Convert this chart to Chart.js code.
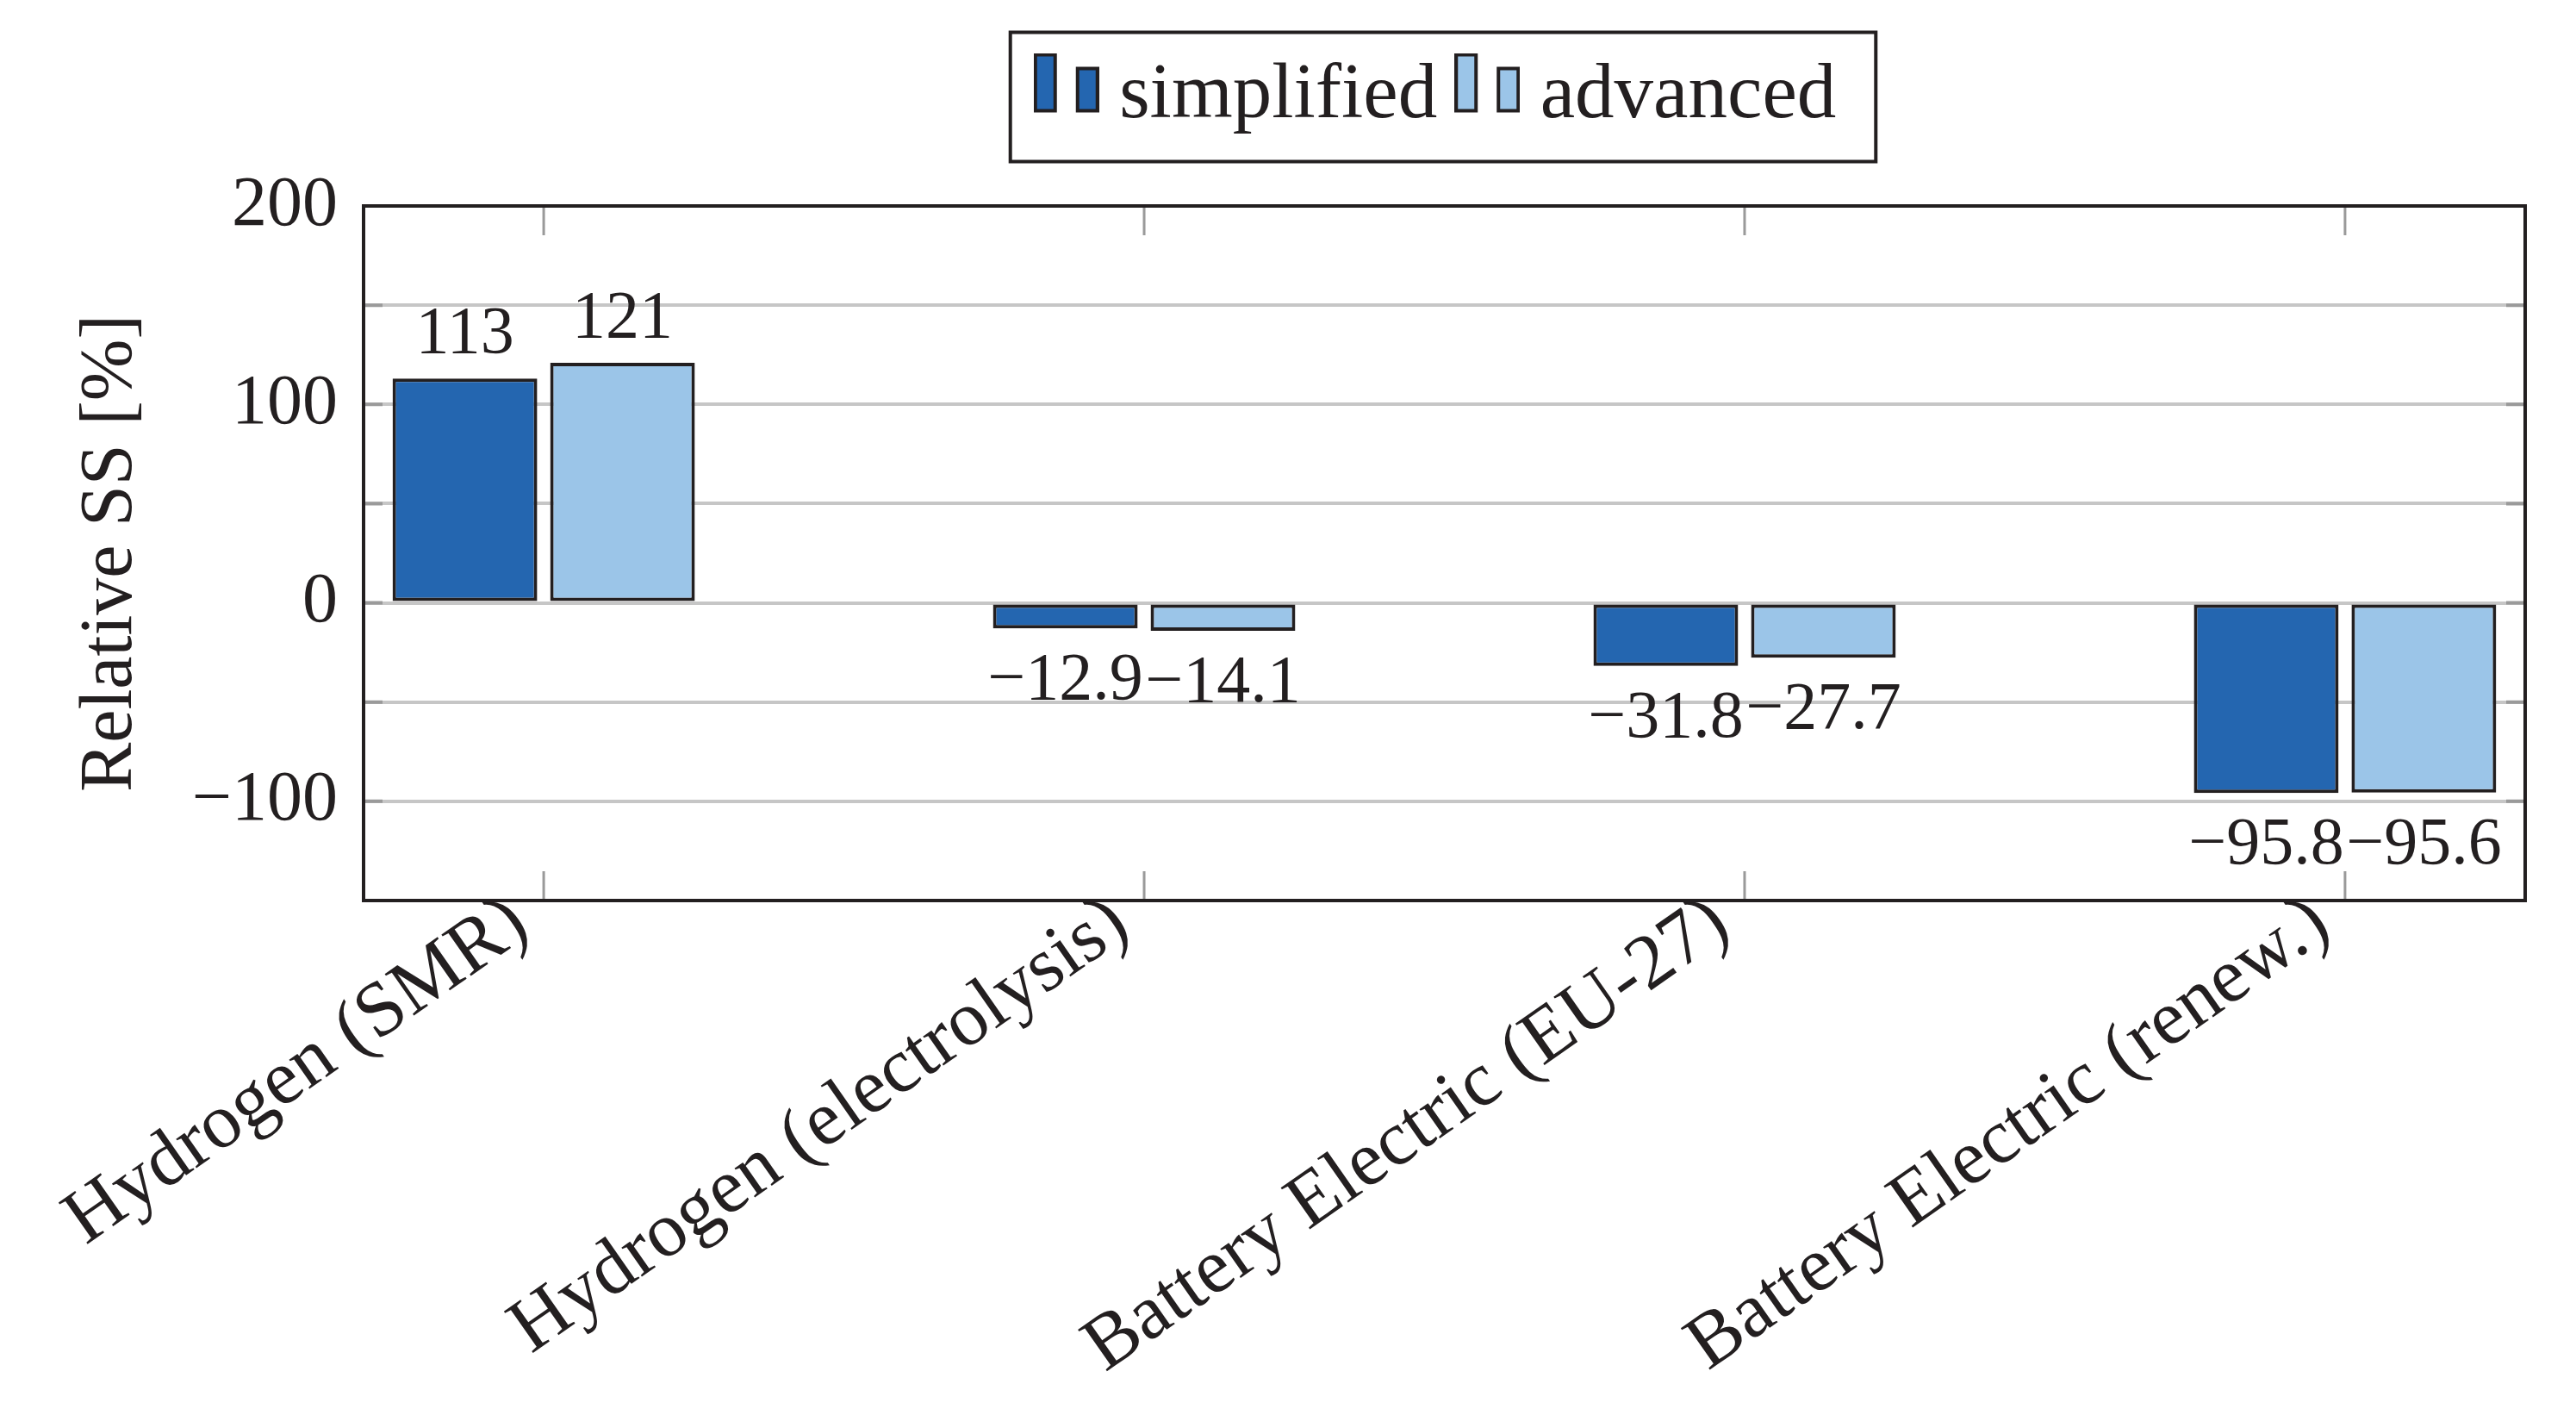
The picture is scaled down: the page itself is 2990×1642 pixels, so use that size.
<!DOCTYPE html>
<html>
<head>
<meta charset="utf-8">
<script src="https://cdn.jsdelivr.net/npm/chart.js@4.4.1/dist/chart.umd.min.js"></script>
<style>
  html, body { margin: 0; padding: 0; background: #ffffff; }
  #wrap { width: 2990px; height: 1642px; }
</style>
</head>
<body>
<div id="wrap"><canvas id="myChart" width="2990" height="1642"></canvas></div>
<script>
// values
var categories = ['Hydrogen (SMR)', 'Hydrogen (electrolysis)', 'Battery Electric (EU-27)', 'Battery Electric (renew.)'];
var simplified = [113, -12.9, -31.8, -95.8];
var advanced = [121, -14.1, -27.7, -95.6];
var seriesNames = ['simplified', 'advanced'];
var yLabelTicks = [-100, 0, 100, 200];

var ink = '#231f20';
var darkBlue = '#2466b0';
var lightBlue = '#9bc5e8';
var serif = "'Liberation Serif', 'DejaVu Serif', serif";

function fmt(v) {
    var s = String(Math.abs(v));
    return v < 0 ? '\u2212' + s : s;
}

// little two-bar legend glyph, like the pgfplots ybar legend
function makeIcon(color) {
    var c = document.createElement('canvas');
    c.width = 76;
    c.height = 102;
    var g = c.getContext('2d');
    g.fillStyle = color;
    g.strokeStyle = ink;
    g.lineWidth = 4;
    g.fillRect(0, 0, 27, 69);
    g.strokeRect(2, 2, 23, 65);
    g.fillRect(49, 16, 27, 53);
    g.strokeRect(51, 18, 23, 49);
    return c;
}

function points(arr) {
    return arr.map(function (v, i) { return { x: i, y: v }; });
}

var legendMargin = {
    id: 'legendMargin',
    beforeInit: function (chart) {
        var fit = chart.legend.fit;
        chart.legend.fit = function () {
            fit.bind(chart.legend)();
            this.height += 71;
        };
    }
};

var frameAndTicks = {
    id: 'frameAndTicks',
    beforeDatasetsDraw: function (chart) {
        var ctx = chart.ctx, a = chart.chartArea;
        var xs = chart.scales.x, ys = chart.scales.y;
        ctx.save();
        ctx.strokeStyle = '#9a9a9a';
        ctx.lineWidth = 3;
        xs.ticks.forEach(function (t) {
            var px = xs.getPixelForValue(t.value);
            ctx.beginPath();
            ctx.moveTo(px, a.bottom); ctx.lineTo(px, a.bottom - 34);
            ctx.moveTo(px, a.top); ctx.lineTo(px, a.top + 34);
            ctx.stroke();
        });
        ctx.lineWidth = 4;
        ys.ticks.forEach(function (t) {
            var py = ys.getPixelForValue(t.value);
            ctx.beginPath();
            ctx.moveTo(a.left, py); ctx.lineTo(a.left + 22, py);
            ctx.moveTo(a.right, py); ctx.lineTo(a.right - 22, py);
            ctx.stroke();
        });
        ctx.restore();
    },
    afterDatasetsDraw: function (chart) {
        var ctx = chart.ctx, a = chart.chartArea;
        ctx.save();
        // value labels
        ctx.font = '78px ' + serif;
        ctx.fillStyle = ink;
        ctx.textAlign = 'center';
        ctx.textBaseline = 'alphabetic';
        chart.data.datasets.forEach(function (ds, di) {
            var meta = chart.getDatasetMeta(di);
            meta.data.forEach(function (bar, i) {
                var v = ds.data[i].y;
                var y = v >= 0 ? bar.y - 30 : bar.y + 82;
                ctx.fillText(fmt(v), bar.x, y);
            });
        });
        // axis frame
        ctx.strokeStyle = ink;
        ctx.lineWidth = 4;
        ctx.strokeRect(a.left, a.top, a.right - a.left, a.bottom - a.top);
        ctx.restore();
    },
    afterDraw: function (chart) {
        var hb = chart.legend.legendHitBoxes;
        if (!hb || !hb.length) return;
        var ctx = chart.ctx;
        var last = hb[hb.length - 1];
        var cy = hb[0].top + hb[0].height / 2;
        var left = hb[0].left - 49;
        var right = last.left + last.width + 46;
        ctx.save();
        ctx.strokeStyle = ink;
        ctx.lineWidth = 4;
        ctx.strokeRect(left, cy - 75, right - left, 150);
        ctx.restore();
    }
};

var myChart = document.getElementById('myChart').getContext('2d');
var chart = new Chart(myChart, {
    type: 'bar',
    data: {
        datasets: [
            {
                label: seriesNames[0],
                data: points(simplified),
                backgroundColor: darkBlue,
                borderColor: ink,
                borderWidth: 4,
                borderSkipped: false,
                pointStyle: makeIcon(darkBlue)
            },
            {
                label: seriesNames[1],
                data: points(advanced),
                backgroundColor: lightBlue,
                borderColor: ink,
                borderWidth: 4,
                borderSkipped: false,
                pointStyle: makeIcon(lightBlue)
            }
        ]
    },
    options: {
        responsive: false,
        animation: false,
        devicePixelRatio: 1,
        categoryPercentage: 0.525,
        barPercentage: 0.918,
        layout: { padding: { top: 25, right: 59, bottom: 0, left: 0 } },
        plugins: {
            tooltip: { enabled: false },
            legend: {
                position: 'top',
                fullSize: false,
                labels: {
                    usePointStyle: true,
                    pointStyleWidth: 32,
                    padding: 42,
                    color: ink,
                    font: { family: serif, size: 91 }
                }
            }
        },
        scales: {
            x: {
                type: 'linear',
                offset: false,
                min: -0.3,
                max: 3.3,
                afterBuildTicks: function (scale) {
                    scale.ticks = categories.map(function (c, i) { return { value: i }; });
                },
                afterFit: function (scale) { scale.height = 597; },
                grid: { display: false, drawTicks: false },
                border: { display: false },
                ticks: {
                    autoSkip: false,
                    minRotation: 35,
                    maxRotation: 35,
                    padding: -26,
                    labelOffset: -27,
                    color: ink,
                    font: { family: serif, size: 90 },
                    callback: function (value) { return categories[value]; }
                }
            },
            y: {
                min: -150,
                max: 200,
                afterFit: function (scale) { scale.width = 422; },
                grid: { color: '#c6c6c6', lineWidth: 4, drawTicks: false },
                border: { display: false },
                ticks: {
                    stepSize: 50,
                    padding: 30,
                    color: ink,
                    font: { family: serif, size: 82 },
                    callback: function (value) {
                        return yLabelTicks.indexOf(value) >= 0 ? fmt(value) : '';
                    }
                },
                title: {
                    display: true,
                    text: 'Relative SS [%]',
                    color: ink,
                    font: { family: serif, size: 86 },
                    padding: { top: 78, bottom: 0 }
                }
            }
        }
    },
    plugins: [legendMargin, frameAndTicks]
});
</script>
</body>
</html>
